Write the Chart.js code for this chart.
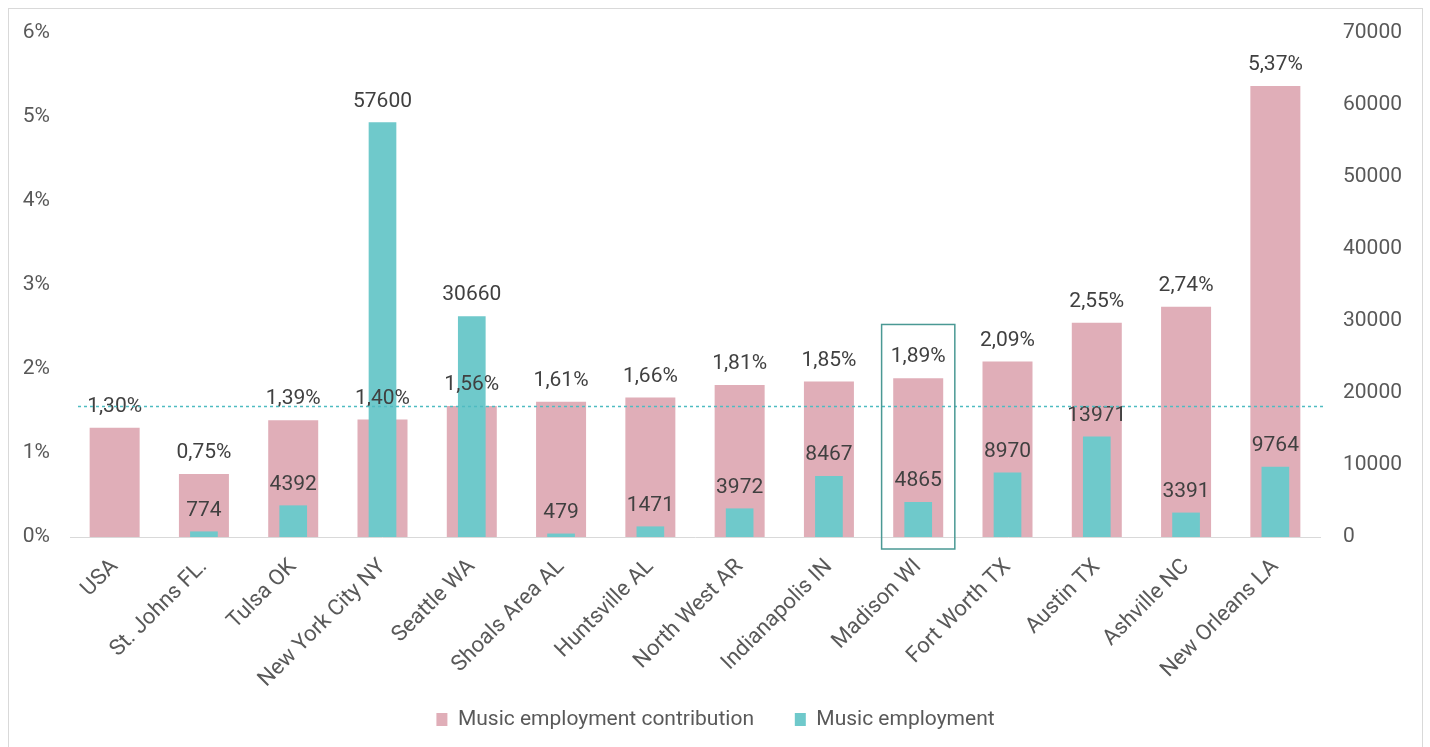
<!DOCTYPE html>
<html>
<head>
<meta charset="utf-8">
<script src="https://cdn.jsdelivr.net/npm/chart.js@4.4.1/dist/chart.umd.min.js"></script>
<style>
  html, body { margin: 0; padding: 0; background: #fff; overflow: hidden; }
  #wrap {
    position: absolute; left: 8px; top: 8px;
    width: 1413px; height: 740px;
    border: 1px solid #d9d9d9;
  }
</style>
</head>
<body>
<div id="wrap"><canvas id="musicChart"></canvas></div>
<script>
// ===== data
const cities = ["USA", "St. Johns FL.", "Tulsa OK", "New York City NY", "Seattle WA",
  "Shoals Area AL", "Huntsville AL", "North West AR", "Indianapolis IN", "Madison WI",
  "Fort Worth TX", "Austin TX", "Ashville NC", "New Orleans LA"];
const contribution = [1.30, 0.75, 1.39, 1.40, 1.56, 1.61, 1.66, 1.81, 1.85, 1.89, 2.09, 2.55, 2.74, 5.37];
const employment = [null, 774, 4392, 57600, 30660, 479, 1471, 3972, 8467, 4865, 8970, 13971, 3391, 9764];
const pctTicks = [0, 1, 2, 3, 4, 5, 6];
const empTicks = [0, 10000, 20000, 30000, 40000, 50000, 60000, 70000];
const refLine = 1.56;        // dashed line level (left axis)
const highlightIdx = 9;      // Madison WI box
const highlightTop = 2.53;   // top of the box on left axis

const FONT = 'Roboto, "Noto Sans", sans-serif';
const PINK = "#e0aeb8";
const TEAL = "#6fc9cb";

// --- labels above each bar
const valueLabels = {
  id: "valueLabels",
  afterDatasetsDraw(chart) {
    const ctx = chart.ctx;
    ctx.save();
    ctx.font = "21px " + FONT;
    ctx.fillStyle = "#404040";
    ctx.textAlign = "center";
    ctx.textBaseline = "middle";
    chart.data.datasets.forEach((ds, i) => {
      const meta = chart.getDatasetMeta(i);
      meta.data.forEach((bar, j) => {
        const v = ds.data[j];
        if (v === null || v === undefined) return;
        const txt = i === 0 ? v.toFixed(2).replace(".", ",") + "%" : String(v);
        ctx.fillText(txt, bar.x, bar.y - 21);
      });
    });
    ctx.restore();
  }
};

// --- dashed reference line + highlight box
const extras = {
  id: "extras",
  afterDatasetsDraw(chart) {
    const ctx = chart.ctx;
    const area = chart.chartArea;
    const y = Math.round(chart.scales.y.getPixelForValue(refLine)) + 0.5;
    ctx.save();
    ctx.strokeStyle = "#4fbcc1";
    ctx.lineWidth = 1.3;
    ctx.setLineDash([3, 3]);
    ctx.beginPath();
    ctx.moveTo(area.left + 8, y);
    ctx.lineTo(area.right + 5, y);
    ctx.stroke();

    const x = chart.scales.x;
    const step = x.getPixelForValue(1) - x.getPixelForValue(0);
    const cx = x.getPixelForValue(highlightIdx);
    const top = chart.scales.y.getPixelForValue(highlightTop);
    ctx.setLineDash([]);
    ctx.strokeStyle = "#4a9994";
    ctx.lineWidth = 1.5;
    ctx.strokeRect(cx - step * 0.41, top, step * 0.82, area.bottom + 12 - top);
    ctx.restore();
  }
};

// keep the value axes from pushing the plot down
function fixSide(width) {
  return scale => {
    scale.width = width;
    scale.paddingTop = 24;
    scale.paddingBottom = 12;
  };
}

new Chart(document.getElementById("musicChart"), {
  type: "bar",
  data: {
    labels: cities,
    datasets: [
      {
        label: "Music employment contribution",
        data: contribution,
        backgroundColor: PINK,
        yAxisID: "y",
        order: 2,
        grouped: false,
        categoryPercentage: 1,
        barPercentage: 0.56
      },
      {
        label: "Music employment",
        data: employment,
        backgroundColor: TEAL,
        yAxisID: "y2",
        order: 1,
        grouped: false,
        categoryPercentage: 1,
        barPercentage: 0.31
      }
    ]
  },
  options: {
    responsive: true,
    maintainAspectRatio: false,
    animation: false,
    layout: { padding: { top: 0, bottom: 9, left: 0, right: 0 } },
    plugins: {
      tooltip: { enabled: false },
      legend: {
        position: "bottom",
        labels: {
          boxWidth: 11,
          boxHeight: 13,
          padding: 20,
          color: "#595959",
          font: { family: FONT, size: 21 },
          generateLabels(chart) {
            const items = Chart.defaults.plugins.legend.labels.generateLabels(chart)
              .sort((a, b) => a.datasetIndex - b.datasetIndex);
            // wider gap between the two legend entries
            items.forEach((it, i) => { if (i < items.length - 1) it.text += "    "; });
            return items;
          }
        }
      }
    },
    scales: {
      x: {
        grid: { display: false, drawTicks: false },
        border: { color: "#d9d9d9", width: 1 },
        ticks: {
          color: "#595959",
          font: { family: FONT, size: 22 },
          maxRotation: 45,
          minRotation: 45,
          padding: 17
        },
        afterFit(scale) { scale.height = 152; }
      },
      y: {
        position: "left",
        min: 0,
        max: 6,
        grid: { display: false, drawTicks: false },
        border: { display: false },
        afterBuildTicks(scale) { scale.ticks = pctTicks.map(v => ({ value: v })); },
        ticks: {
          color: "#595959",
          font: { family: FONT, size: 21 },
          padding: 20,
          callback: v => v + "%"
        },
        afterFit: fixSide(61)
      },
      y2: {
        position: "right",
        min: 0,
        max: 70000,
        grid: { display: false, drawTicks: false },
        border: { display: false },
        afterBuildTicks(scale) { scale.ticks = empTicks.map(v => ({ value: v })); },
        ticks: {
          color: "#595959",
          font: { family: FONT, size: 21 },
          padding: 23,
          callback: v => String(v)
        },
        afterFit: fixSide(102)
      }
    }
  },
  plugins: [valueLabels, extras]
});
</script>
</body>
</html>
